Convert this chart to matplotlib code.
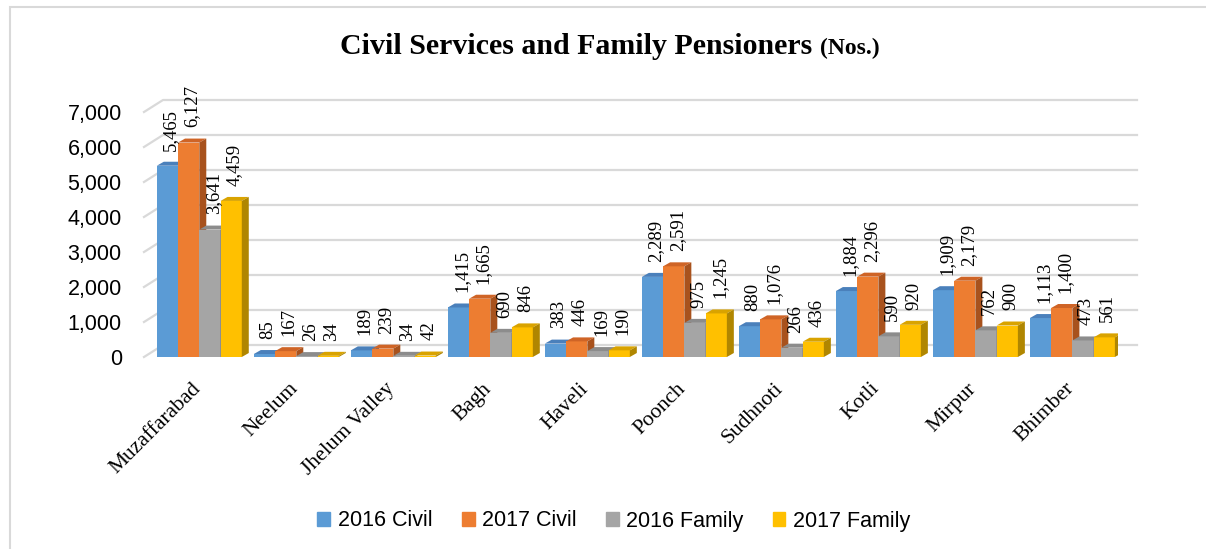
import matplotlib
matplotlib.use("Agg")
import matplotlib.pyplot as plt
import matplotlib.transforms as mtransforms
from matplotlib.patches import Patch, Rectangle, Polygon

# podaci
districts = ["Muzaffarabad", "Neelum", "Jhelum Valley", "Bagh", "Haveli",
             "Poonch", "Sudhnoti", "Kotli", "Mirpur", "Bhimber"]
civil_2016 = [5465, 85, 189, 1415, 383, 2289, 880, 1884, 1909, 1113]
civil_2017 = [6127, 167, 239, 1665, 446, 2591, 1076, 2296, 2179, 1400]
family_2016 = [3641, 26, 34, 690, 169, 975, 266, 590, 762, 473]
family_2017 = [4459, 34, 42, 846, 190, 1245, 436, 920, 900, 561]
series_names = ["2016 Civil", "2017 Civil", "2016 Family", "2017 Family"]
y_ticks = [0, 1000, 2000, 3000, 4000, 5000, 6000, 7000]

series = [civil_2016, civil_2017, family_2016, family_2017]
front = ["#5b9bd5", "#ed7d31", "#a5a5a5", "#ffc000"]
top = ["#4a80bb", "#cf6426", "#8c8c8c", "#d9a300"]
side = ["#3f6e9e", "#a8521d", "#767676", "#b08600"]

fig = plt.figure(figsize=(12.06, 5.49), dpi=100)
ax = fig.add_axes([144/1206, 1-357/549, 974/1206, 245/549])
ax.set_xlim(-0.57, 9.47)
ax.set_ylim(0, 7000)

w = 0.219          # sirina stubca
dxb, dyb = 0.072, 114     # dubina stubca
dxg, dyg = 0.196, 343     # pomeraj zadnjeg zida

# linije mreze na zadnjem zidu
xl, xr = ax.get_xlim()
for v in y_ticks:
    ax.plot([xl, xl+dxg, xr+dxg], [v, v+dyg, v+dyg], color="#d9d9d9",
            lw=1.6, clip_on=False, zorder=0.5)

# stubci sa 3d efektom
k = 0
for i in range(len(districts)):
    for j in range(4):
        x0 = i + (j-2)*w
        x1 = x0 + w
        h = series[j][i]
        z = 2 + 0.01*k
        ax.bar(x0, h, width=w, align="edge", color=front[j], zorder=z)
        ax.add_patch(Polygon([(x0, h), (x1, h), (x1+dxb, h+dyb), (x0+dxb, h+dyb)],
                             closed=True, color=top[j], zorder=z, lw=0))
        ax.add_patch(Polygon([(x1, 0), (x1+dxb, dyb), (x1+dxb, h+dyb), (x1, h)],
                             closed=True, color=side[j], zorder=z, lw=0))
        ax.annotate(f"{h:,}", xy=(x0 + w/2 + dxb/2, h + dyb), xytext=(0, 8),
                    textcoords="offset points", rotation=90, ha="center",
                    va="bottom", family="Liberation Serif", fontsize=13.5,
                    zorder=10)
        k += 1

for s in ax.spines.values():
    s.set_visible(False)
ax.set_yticks(y_ticks)
ax.set_yticklabels([f"{v:,}" for v in y_ticks], family="Liberation Sans", fontsize=15.5)
ax.set_xticks(range(len(districts)))
ax.set_xticklabels(districts, rotation=45, ha="right", va="top",
                   rotation_mode="anchor", family="Liberation Serif", fontsize=15.5)
ax.tick_params(axis="y", length=0, pad=16)
ax.tick_params(axis="x", length=0, pad=16)
# pomeranje naziva okruga malo ulevo
pomak = mtransforms.ScaledTranslation(-8/100, 0, fig.dpi_scale_trans)
for lab in ax.get_xticklabels():
    lab.set_transform(lab.get_transform() + pomak)

# naslov u dva dela
t1 = fig.text(0, 1-47/549, "Civil Services and Family Pensioners ", family="Liberation Serif",
              fontweight="bold", fontsize=21.5, va="center", ha="left")
t2 = fig.text(0, 1-48/549, "(Nos.)", family="Liberation Serif",
              fontweight="bold", fontsize=17, va="center", ha="left")
fig.canvas.draw()
r = fig.canvas.get_renderer()
w1 = t1.get_window_extent(r).width
w2 = t2.get_window_extent(r).width
start = 610 - (w1 + w2)/2
t1.set_x(start/1206)
t2.set_x((start + w1)/1206)

# legenda
handles = [Patch(color=c) for c in front]
fig.legend(handles, series_names, loc="center", bbox_to_anchor=(0.509, 1-521/549),
           ncol=4, frameon=False, prop={"family": "Liberation Sans", "size": 15.5},
           handlelength=0.6, handleheight=0.6, handletextpad=0.35, columnspacing=1.35)

# okvir grafikona
fig.patches.append(Rectangle((10/1206, -0.1), 1.2, 1.1 - 7/549, transform=fig.transFigure,
                             fill=False, edgecolor="#d9d9d9", lw=1.5))

fig.savefig("out.png", dpi=100)
